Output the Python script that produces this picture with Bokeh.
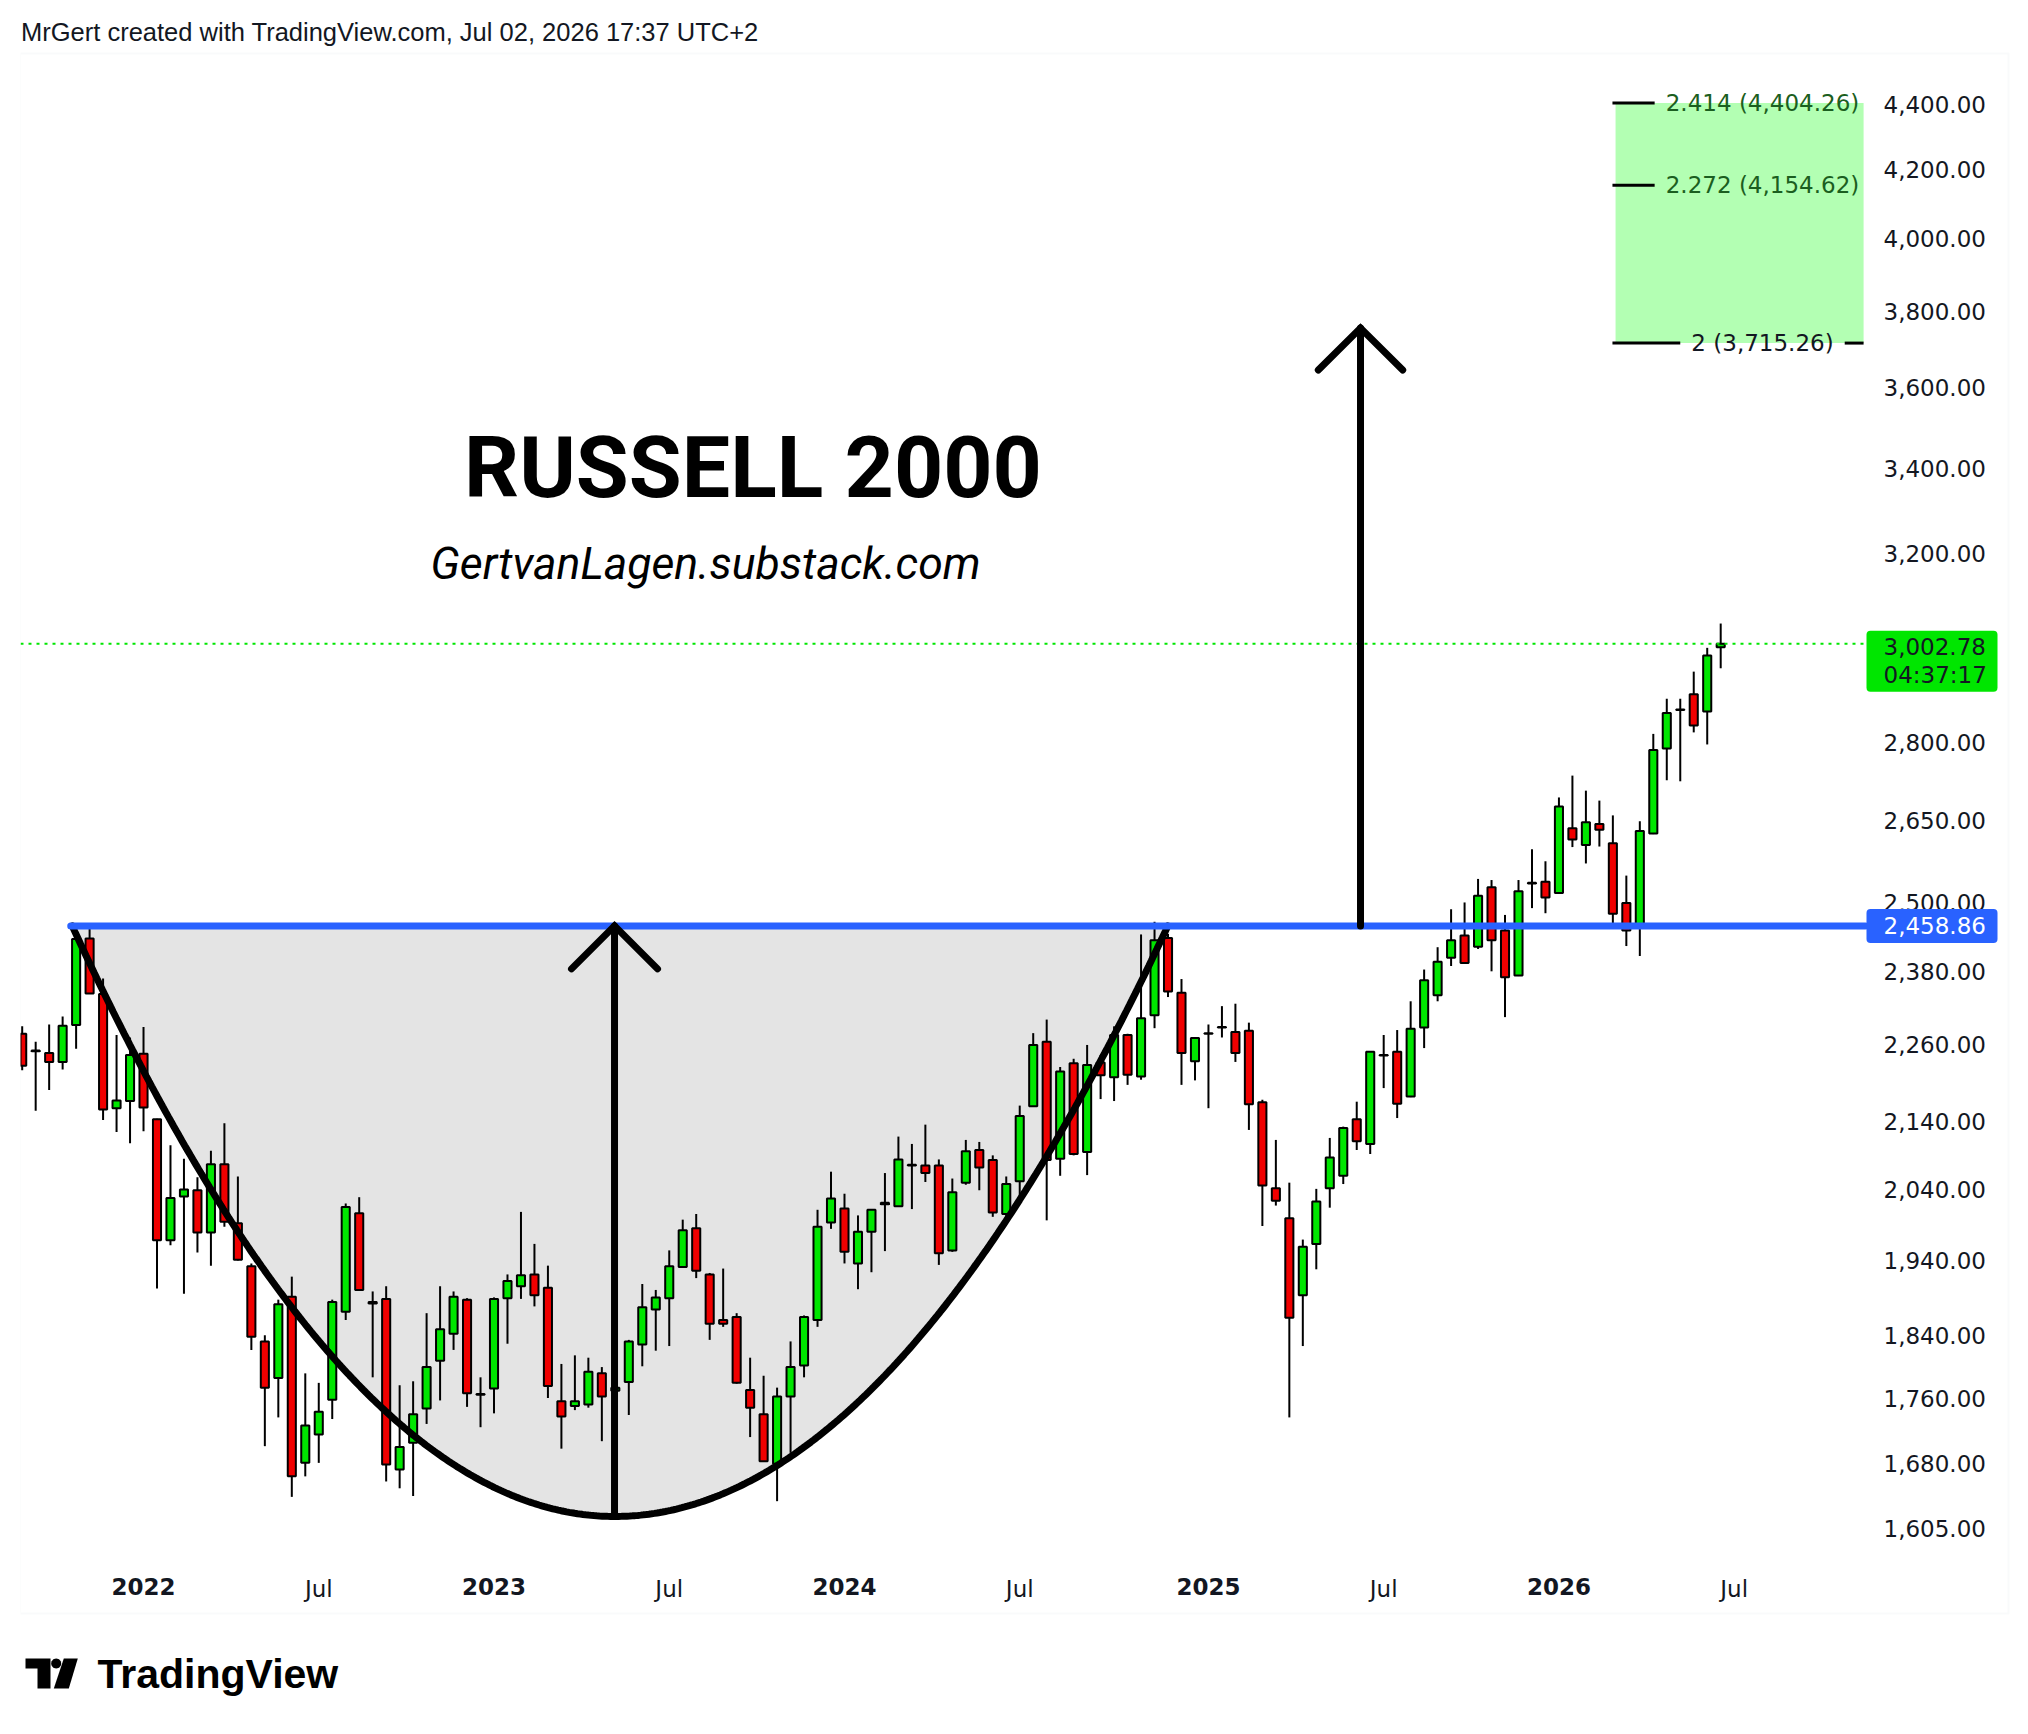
import numpy as np
from bokeh.plotting import figure
from bokeh.models import (Range1d, FixedTicker, LinearAxis, Label, PolyAnnotation,
                          BoxAnnotation, NumeralTickFormatter, ColumnDataSource)
from bokeh.core.properties import value
from bokeh.embed import file_html
from bokeh.resources import INLINE

# ---------------- data (2-week candles, Russell 2000) ----------------
opens = [2278, 2251, 2247, 2233, 2292, 2437, 2343, 2161, 2172, 2246,
         2144, 1968, 2030, 2039, 1979, 2077, 1992, 1932, 1832, 1785,
         1891, 1681, 1715, 1758, 1871, 2006, 1884, 1888, 1673, 1705,
         1747, 1807, 1842, 1887, 1765, 1772, 1889, 1905, 1921, 1903,
         1756, 1750, 1752, 1791, 1769, 1780, 1828, 1874, 1889, 1931,
         1985, 1921, 1860, 1864, 1770, 1740, 1680, 1762, 1801, 1860,
         1993, 2013, 1936, 1980, 2021, 2016, 2076, 2075, 2075, 1954,
         2050, 2098, 2083, 2005, 2052, 2164, 2265, 2085, 2231, 2095,
         2232, 2209, 2276, 2210, 2308, 2438, 2345, 2234, 2278, 2288,
         2281, 2283, 2170, 2042, 1999, 1893, 1963, 2042, 2060, 2144,
         2107, 2243, 2249, 2179, 2288, 2341, 2404, 2442, 2423, 2527,
         2451, 2374, 2534, 2537, 2517, 2635, 2604, 2643, 2607, 2499,
         2460, 2625, 2788, 2865, 2897, 2862, 2995]
highs = [2290, 2265, 2293, 2306, 2450, 2458.86, 2369, 2276, 2272, 2289,
         2145, 2105, 2085, 2058, 2097, 2138, 2059, 1936, 1840, 1887,
         1918, 1791, 1779, 1887, 2020, 2029, 1898, 1905, 1776, 1781,
         1869, 1905, 1898, 1889, 1786, 1890, 1921, 2008, 1963, 1933,
         1803, 1814, 1811, 1799, 1800, 1834, 1908, 1900, 1954, 1997,
         2005, 1923, 1929, 1869, 1811, 1788, 1773, 1832, 1866, 2011,
         2066, 2034, 2003, 2012, 2064, 2118, 2107, 2136, 2084, 2056,
         2113, 2110, 2090, 2059, 2165, 2279, 2301, 2225, 2238, 2260,
         2244, 2290, 2278, 2444, 2466, 2445, 2368, 2272, 2293, 2323,
         2327, 2296, 2174, 2113, 2050, 1969, 2041, 2116, 2133, 2171,
         2250, 2276, 2284, 2331, 2384, 2422, 2488, 2500, 2542, 2540,
         2478, 2540, 2596, 2574, 2693, 2735, 2706, 2687, 2659, 2548,
         2648, 2817, 2888, 2888, 2944, 2994, 3046]
lows = [2220, 2157, 2189, 2221, 2254, 2343, 2143, 2125, 2108, 2126,
        1902, 1961, 1895, 1951, 1933, 1987, 1940, 1821, 1701, 1736,
        1641, 1665, 1681, 1734, 1860, 1899, 1786, 1659, 1651, 1642,
        1728, 1757, 1821, 1749, 1724, 1741, 1829, 1888, 1878, 1760,
        1698, 1745, 1748, 1707, 1740, 1739, 1800, 1820, 1826, 1930,
        1916, 1834, 1851, 1778, 1712, 1682, 1636, 1693, 1786, 1851,
        1984, 1936, 1901, 1924, 1953, 2015, 2012, 2051, 1934, 1952,
        2047, 2039, 2001, 1996, 2022, 2163, 1996, 2060, 2090, 2061,
        2175, 2172, 2197, 2205, 2287, 2338, 2197, 2204, 2161, 2272,
        2233, 2128, 1988, 2017, 1736, 1826, 1928, 2014, 2048, 2098,
        2092, 2192, 2146, 2178, 2255, 2331, 2390, 2394, 2419, 2381,
        2305, 2373, 2490, 2481, 2516, 2600, 2570, 2601, 2458, 2424,
        2407, 2624, 2726, 2724, 2820, 2796, 2951]
closes = [2227, 2250, 2233, 2291, 2436, 2344, 2159, 2173, 2244, 2162,
          1968, 2028, 2040, 1979, 2077, 1994, 1941, 1838, 1773, 1881,
          1665, 1726, 1743, 1884, 2015, 1900, 1882, 1679, 1700, 1740,
          1799, 1848, 1891, 1766, 1764, 1888, 1912, 1920, 1893, 1775,
          1737, 1756, 1793, 1762, 1773, 1832, 1877, 1890, 1932, 1982,
          1926, 1855, 1855, 1779, 1748, 1683, 1762, 1799, 1864, 1987,
          2027, 1952, 1980, 2011, 2019, 2084, 2075, 2064, 1950, 2036,
          2096, 2072, 2007, 2048, 2149, 2260, 2083, 2218, 2092, 2228,
          2212, 2276, 2213, 2303, 2434, 2347, 2247, 2271, 2279, 2289,
          2247, 2167, 2046, 2024, 1863, 1959, 2023, 2087, 2131, 2111,
          2249, 2244, 2168, 2286, 2366, 2397, 2434, 2395, 2512, 2434,
          2371, 2520, 2535, 2509, 2676, 2614, 2646, 2632, 2480, 2451,
          2630, 2785, 2859, 2866, 2834, 2978, 3002.78]

year_ticks = [9, 35, 61, 88, 114]
year_labels = ["2022", "2023", "2024", "2025", "2026"]
month_ticks = [22, 48, 74, 101, 127]
month_labels = ["Jul", "Jul", "Jul", "Jul", "Jul"]
price_ticks = [1605, 1680, 1760, 1840, 1940, 2040, 2140, 2260, 2380, 2500,
               2650, 2800, 3200, 3400, 3600, 3800, 4000, 4200, 4400]

breakout_level = 2458.86
last_price = 3002.78
countdown = "04:37:17"
fib_ratios = [2.0, 2.272, 2.414]
fib_prices = [3715.26, 4154.62, 4404.26]

cup_x = [3.71, 43.94, 84.99]          # left rim, bottom, right rim (bar index)
cup_bottom_price = 1618.4
target_arrow_x = 99.28
target_arrow_top = 3755.0

# ---------------- layout ----------------
W, H = 2012, 1718
ML = 12
X0, X1 = -0.126, 148.24       # full frame (incl. price-scale area)
PANE_X1 = 136.74              # right edge of the candle pane
Y0, Y1 = 1394.7, 4708.7       # full frame (incl. time-scale area)
PX_PER_LN = H / np.log(Y1 / Y0)

GREEN = "#00e600"
RED = "#f00000"
BLUE = "#2962ff"
INK = "#131722"

p = figure(width=W, height=H, output_backend="svg", toolbar_location=None,
           x_range=Range1d(X0, X1), y_range=Range1d(Y0, Y1),
           y_axis_type="log", y_axis_location="right",
           min_border_left=ML, min_border_right=0, min_border_top=0, min_border_bottom=0,
           background_fill_color="white", border_fill_color="white",
           outline_line_color=None)
p.margin = (8, 0, 0, 8)
p.grid.visible = False

def sx(ox):
    return ox - 20

def sy(oy):
    return 1726 - oy

def shift(price, px):
    return price * np.exp(px / PX_PER_LN)

# chart box border
p.add_layout(PolyAnnotation(xs=[sx(19.5), sx(2008), sx(2008), sx(19.5)],
                            ys=[sy(53), sy(53), sy(1613), sy(1613)],
                            xs_units="screen", ys_units="screen",
                            fill_color=None, line_color="#eceef2", line_width=2))

ya = p.yaxis[0]
ya.ticker = FixedTicker(ticks=price_ticks)
ya.formatter = NumeralTickFormatter(format="0,0.00")
ya.axis_line_color = None
ya.major_tick_line_color = None
ya.minor_tick_line_color = None
ya.major_tick_out = 0
ya.major_tick_in = 0
ya.minor_tick_out = 0
ya.major_label_standoff = 1883 - 2020
ya.major_label_text_font = "DejaVu Sans"
ya.major_label_text_font_size = "23px"
ya.major_label_text_color = INK

def style_x(ax, bold, standoff):
    ax.axis_line_color = None
    ax.major_tick_line_color = None
    ax.minor_tick_line_color = None
    ax.major_tick_out = 0
    ax.major_tick_in = 0
    ax.minor_tick_out = 0
    ax.major_label_standoff = standoff
    ax.major_label_text_font = "DejaVu Sans"
    ax.major_label_text_font_size = "23px"
    ax.major_label_text_color = INK
    ax.major_label_text_font_style = "bold" if bold else "normal"

xa = p.xaxis[0]
xa.ticker = FixedTicker(ticks=year_ticks)
xa.major_label_overrides = {t: l for t, l in zip(year_ticks, year_labels)}
style_x(xa, True, 1577 - 1726)

xm = LinearAxis(ticker=FixedTicker(ticks=month_ticks),
                major_label_overrides={t: l for t, l in zip(month_ticks, month_labels)})
style_x(xm, False, 8 - 1601)
p.add_layout(xm, "above")

# ---------------- cup (parabola in screen space) ----------------
xl, xb, xr = cup_x
xs = np.linspace(xl, xr, 400)
span = np.log(breakout_level / cup_bottom_price)
k = np.where(xs < xb, span / (xb - xl) ** 2, span / (xr - xb) ** 2)
ys = np.exp(np.log(cup_bottom_price) + k * (xs - xb) ** 2)
p.varea(x=xs, y1=ys, y2=breakout_level, fill_color="#e4e4e4")

# ---------------- candles ----------------
o = np.array(opens, float)
c = np.array(closes, float)
idx = np.arange(len(o))
src = ColumnDataSource(dict(x=idx, top=np.maximum(o, c), bottom=np.minimum(o, c),
                            high=highs, low=lows,
                            color=np.where(c >= o, GREEN, RED)))
p.segment(x0="x", y0="low", x1="x", y1="high", source=src, line_color="black", line_width=2)
p.vbar(x="x", width=0.6, top="top", bottom="bottom", source=src,
       fill_color="color", line_color="black", line_width=2)

# ---------------- drawings ----------------
p.line(xs, ys, line_color="black", line_width=7, line_cap="round")

p.segment(x0=[3.6], y0=[breakout_level], x1=[PANE_X1], y1=[breakout_level],
          line_color=BLUE, line_width=7, line_cap="round")
p.segment(x0=[X0], y0=[last_price], x1=[PANE_X1], y1=[last_price],
          line_color=GREEN, line_width=2, line_dash="3 5")

def arrow(x, y0, y1, dx, head_drop_px):
    p.line([x, x], [y0, y1], line_color="black", line_width=7, line_cap="round")
    yh = shift(y1, -head_drop_px)
    p.line([x - dx, x, x + dx], [yh, y1, yh], line_color="black", line_width=7,
           line_cap="round", line_join="miter")

arrow(xb, cup_bottom_price, breakout_level, 3.19, 43)
arrow(target_arrow_x, breakout_level, target_arrow_top, 3.13, 42)

# Fibonacci extension box
p.quad(left=[118.2], right=[136.6], bottom=[fib_prices[0]], top=[fib_prices[2]],
       fill_color="#b3ffb3", line_color=None)
p.segment(x0=[117.97, 117.97, 117.97, 135.2], x1=[123.0, 121.1, 121.1, 136.6],
          y0=[fib_prices[0], fib_prices[1], fib_prices[2], fib_prices[0]],
          y1=[fib_prices[0], fib_prices[1], fib_prices[2], fib_prices[0]],
          line_color="black", line_width=3)
fib_text = [f"{r:g} ({v:,.2f})" for r, v in zip(fib_ratios, fib_prices)]
p.text(x=[129.1] * 3, y=fib_prices, text=fib_text,
       text_color=["#131722", "#1b5e20", "#1b5e20"],
       text_font=value("DejaVu Sans"), text_font_size="23px",
       text_align="center", text_baseline="middle")

# ---------------- price-scale labels ----------------
p.add_layout(BoxAnnotation(left=sx(1866), right=sx(1997), left_units="screen", right_units="screen",
                           bottom=shift(breakout_level, -17), top=shift(breakout_level, 17),
                           fill_color=BLUE, fill_alpha=1.0, line_color=None, border_radius=4))
p.add_layout(Label(x=sx(1883), y=breakout_level, x_units="screen", y_units="data",
                   text=f"{breakout_level:,.2f}", text_color="white",
                   text_font="DejaVu Sans", text_font_size="23px",
                   text_align="left", text_baseline="middle"))
p.add_layout(BoxAnnotation(left=sx(1866), right=sx(1997), left_units="screen", right_units="screen",
                           bottom=shift(last_price, -48), top=shift(last_price, 13),
                           fill_color=GREEN, fill_alpha=1.0, line_color=None, border_radius=4))
p.add_layout(Label(x=sx(1883), y=shift(last_price, -3), x_units="screen", y_units="data",
                   text=f"{last_price:,.2f}", text_color=INK,
                   text_font="DejaVu Sans", text_font_size="23px",
                   text_align="left", text_baseline="middle"))
p.add_layout(Label(x=sx(1883), y=shift(last_price, -31), x_units="screen", y_units="data",
                   text=countdown, text_color=INK,
                   text_font="DejaVu Sans", text_font_size="23px",
                   text_align="left", text_baseline="middle"))

# ---------------- texts ----------------
p.add_layout(Label(x=sx(752.5), y=sy(467), x_units="screen", y_units="screen",
                   text="RUSSELL 2000", text_font="Roboto", text_font_style="bold",
                   text_font_size="86px", text_align="center", text_baseline="middle",
                   text_color="black"))
p.add_layout(Label(x=sx(705), y=sy(563), x_units="screen", y_units="screen",
                   text="GertvanLagen.substack.com", text_font="Roboto",
                   text_font_style="italic", text_font_size="44.5px", text_align="center",
                   text_baseline="middle", text_color="black"))
p.add_layout(Label(x=sx(20.5), y=sy(31), x_units="screen", y_units="screen",
                   text="MrGert created with TradingView.com, Jul 02, 2026 17:37 UTC+2",
                   text_font="Liberation Sans", text_font_size="25.5px",
                   text_align="left", text_baseline="middle", text_color=INK))
p.add_layout(Label(x=sx(97), y=sy(1673), x_units="screen", y_units="screen",
                   text="TradingView", text_font="Liberation Sans", text_font_style="bold",
                   text_font_size="41px", text_align="left", text_baseline="middle",
                   text_color="black"))

# TradingView logo mark
logo_T = ([25, 50, 50, 37, 37, 25], [1658, 1658, 1688, 1688, 1668, 1668])
logo_S = ([63.3, 77.3, 68.3, 53.3], [1658, 1658, 1688, 1688])
ang = np.linspace(0, 2 * np.pi, 28, endpoint=False)
logo_D = (list(55.7 + 5 * np.cos(ang)), list(1663 + 5 * np.sin(ang)))
for px, py in (logo_T, logo_S, logo_D):
    p.add_layout(PolyAnnotation(xs=[sx(v) for v in px], ys=[sy(v) for v in py],
                                xs_units="screen", ys_units="screen",
                                fill_color="black", fill_alpha=1.0, line_color=None))

open("out.html", "w").write(file_html(p, INLINE))
